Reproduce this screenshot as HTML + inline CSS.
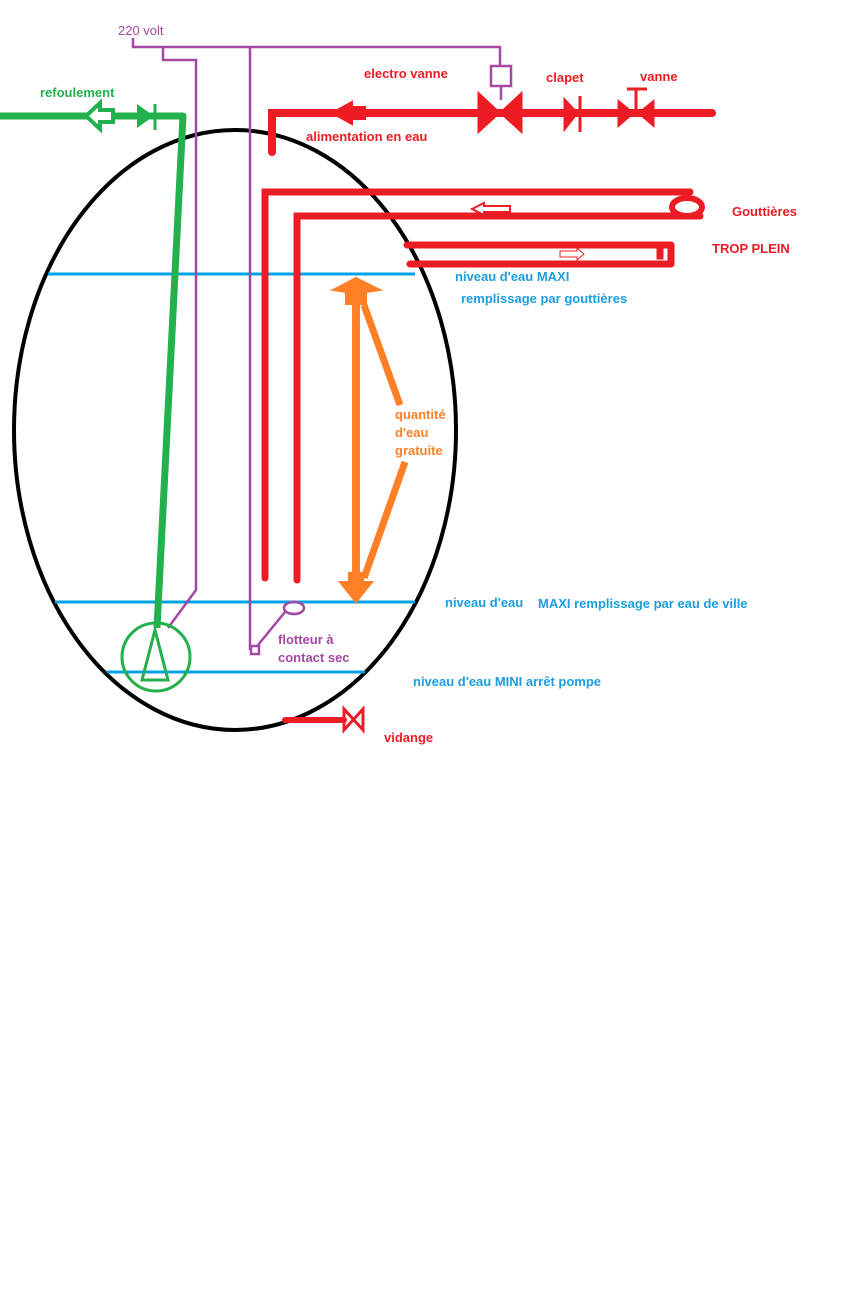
<!DOCTYPE html>
<html><head><style>
html,body{margin:0;padding:0;background:#fff;}
svg{display:block;}
text{font-family:"Liberation Sans",sans-serif;font-weight:bold;font-size:13px;}
</style></head><body>
<svg width="864" height="1296" viewBox="0 0 864 1296">
<!-- tank -->
<ellipse cx="235" cy="430" rx="221" ry="300" fill="none" stroke="#000" stroke-width="4"/>
<!-- levels -->
<g stroke="#00a2e8" stroke-width="3">
<line x1="48" y1="274" x2="415" y2="274"/>
<line x1="55" y1="602" x2="415" y2="602"/>
<line x1="107" y1="672" x2="365" y2="672"/>
</g>
<!-- purple wiring -->
<g stroke="#a349a4" stroke-width="2.5" fill="none">
<polyline points="133,38 133,47 500,47 500,66"/>
<polyline points="163,47 163,60 196,60 196,590 168,628"/>
<line x1="250" y1="47" x2="250" y2="650"/>
<rect x="251" y="646" width="8" height="8"/>
<line x1="258" y1="645" x2="285" y2="612"/>
<ellipse cx="294" cy="608" rx="10" ry="6"/>
<rect x="491" y="66" width="20" height="20"/>
<line x1="501" y1="86" x2="501" y2="100"/>
</g>
<!-- green -->
<g stroke="#22b14c" fill="none">
<polyline points="0,116 183,116 157,628" stroke-width="7" stroke-linejoin="round"/>
<circle cx="156" cy="657" r="34" stroke-width="3"/>
<polygon points="155,630 142,680 168,680" stroke-width="3"/>
<polygon points="86,116 100,103 100,110 113,110 113,122 100,122 100,129" fill="#fff" stroke-width="4"/>
<polygon points="138,106 152,116 138,126" fill="#22b14c" stroke-width="2"/>
<line x1="155" y1="104" x2="155" y2="130" stroke-width="3"/>
</g>
<!-- red supply -->
<g stroke="#ed1c24" fill="#ed1c24">
<polyline points="272,152 272,113 712,113" fill="none" stroke-width="8" stroke-linecap="round"/>
<polygon points="332,113 352,102 352,124" stroke-width="2"/>
<rect x="350" y="106" width="16" height="14" stroke="none"/>
<polygon points="478,92 522,133 522,92 478,133" stroke-width="1"/>
<polygon points="478,92 500,113 478,133"/>
<polygon points="522,92 500,113 522,133"/>
<polygon points="564,98 578,113 564,131" stroke-width="1"/>
<line x1="580" y1="96" x2="580" y2="132" stroke-width="3"/>
<polygon points="618,100 634,113 618,127"/>
<polygon points="654,100 638,113 654,127"/>
<line x1="636" y1="89" x2="636" y2="112" stroke-width="3"/>
<line x1="627" y1="89" x2="647" y2="89" stroke-width="3"/>
</g>
<!-- gutters -->
<g stroke="#ed1c24" fill="none" stroke-width="7" stroke-linecap="round">
<polyline points="265,578 265,192 690,192"/>
<polyline points="297,580 297,216 700,216"/>
<ellipse cx="687" cy="207" rx="15" ry="9" stroke-width="6" fill="#fff"/>
<line x1="407" y1="245" x2="670" y2="245"/>
<line x1="410" y1="264" x2="670" y2="264"/>
<line x1="671" y1="245" x2="671" y2="264"/>
<rect x="657" y="249" width="6" height="10" fill="#ed1c24" stroke-width="1"/>
</g>
<polygon points="472,209 484,203 484,206 510,206 510,212 484,212 484,215" fill="#fff" stroke="#ed1c24" stroke-width="2"/>
<polygon points="560,251 577,251 577,248 584,254 577,260 577,257 560,257" fill="#fff" stroke="#ed1c24" stroke-width="1"/>
<!-- vidange -->
<g stroke="#ed1c24">
<line x1="285" y1="720" x2="344" y2="720" stroke-width="6" stroke-linecap="round"/>
<polygon points="344,709 363,730 363,709 344,730" fill="none" stroke-width="3"/>
</g>
<!-- orange -->
<g stroke="#ff7f27" fill="#ff7f27">
<line x1="356" y1="295" x2="356" y2="585" stroke-width="8"/>
<polygon points="333,290 356,278 380,290 366,292 366,304 346,304 346,292" stroke-width="2"/>
<polygon points="340,582 372,582 356,602" stroke-width="2"/>
<rect x="348" y="572" width="16" height="14" stroke="none"/>
<line x1="364" y1="305" x2="400" y2="405" stroke-width="7"/>
<line x1="405" y1="462" x2="364" y2="578" stroke-width="7"/>
</g>
<!-- labels -->
<text x="118" y="35" fill="#a349a4" font-size="12" style="font-weight:normal">220 volt</text>
<text x="40" y="97" fill="#22b14c">refoulement</text>
<text x="364" y="78" fill="#ed1c24">electro vanne</text>
<text x="546" y="82" fill="#ed1c24">clapet</text>
<text x="640" y="81" fill="#ed1c24">vanne</text>
<text x="306" y="141" fill="#ed1c24">alimentation en eau</text>
<text x="732" y="216" fill="#ed1c24">Gouttières</text>
<text x="712" y="253" fill="#ed1c24">TROP PLEIN</text>
<text x="455" y="281" fill="#1a9ee0">niveau d'eau MAXI</text>
<text x="461" y="303" fill="#1a9ee0">remplissage par gouttières</text>
<text x="395" y="419" fill="#ff7f27">quantité</text>
<text x="395" y="437" fill="#ff7f27">d'eau</text>
<text x="395" y="455" fill="#ff7f27">gratuite</text>
<text x="445" y="607" fill="#1a9ee0">niveau d'eau</text>
<text x="538" y="608" fill="#1a9ee0">MAXI remplissage par eau de ville</text>
<text x="278" y="644" fill="#a349a4">flotteur à</text>
<text x="278" y="662" fill="#a349a4">contact sec</text>
<text x="413" y="686" fill="#1a9ee0">niveau d'eau MINI arrêt pompe</text>
<text x="384" y="742" fill="#ed1c24">vidange</text>
</svg>
</body></html>
